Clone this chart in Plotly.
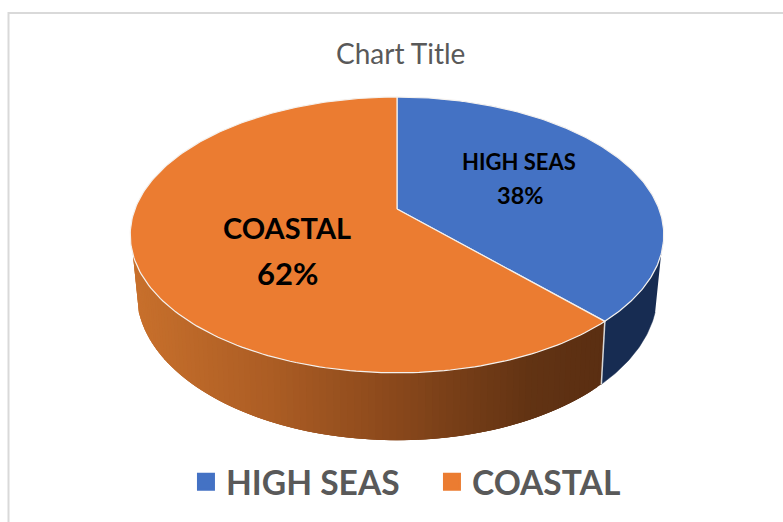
import numpy as np
import plotly.graph_objects as go

# Data
categories = ["HIGH SEAS", "COASTAL"]
shares = [38, 62]
title_text = "Chart Title"

# Style
top_colors = ["#4472c4", "#eb7c31"]
blue_side = "#172c52"
FONT = "Lato"
W, H = 783, 522

# Perspective projection of the pie's top and bottom discs onto the canvas
CX = 397
TOP = dict(B=262, A=133, k=0.188, y0=209)
BOT = dict(B=255, A=141, k=0.20, y0=264)


def project(theta, disc):
    u, v = np.sin(theta), -np.cos(theta)
    d = 1 - disc["k"] * v
    return CX + disc["B"] * u / d, disc["y0"] + disc["A"] * v / d


fracs = np.cumsum([0] + shares) / sum(shares)
angles = 2 * np.pi * fracs
SIDE_END = np.arccos(-0.32)         # angle where rim turns out of sight on the right
SIDE_START = 2 * np.pi - SIDE_END   # same on the left

STOPS_X = [135, 270, 400, 530, 605]
STOPS_RGB = np.array([[200, 112, 44], [172, 93, 36], [136, 71, 27], [98, 51, 19], [90, 46, 18]])


def shade(x):
    r, g, b = (np.interp(x, STOPS_X, STOPS_RGB[:, i]) for i in range(3))
    return f"rgb({r:.0f},{g:.0f},{b:.0f})"


fig = go.Figure()

# Side of the first slice
th = np.linspace(SIDE_END, angles[1], 40)
tx, ty = project(th, TOP)
bx, by = project(th, BOT)
fig.add_trace(go.Scatter(
    x=np.r_[tx, bx[::-1]], y=np.r_[ty, by[::-1]], mode="lines", fill="toself",
    fillcolor=blue_side, line=dict(color=blue_side, width=0.5),
    showlegend=False, hoverinfo="skip"))

# Side of the second slice: overlapping strips painted in order for a smooth gradient
edges = np.linspace(angles[1], SIDE_START, 91)
for i in range(len(edges) - 1):
    th = np.linspace(edges[i], edges[min(i + 3, len(edges) - 1)], 8)
    tx, ty = project(th, TOP)
    bx, by = project(th, BOT)
    col = shade(float((tx[:3].mean() + bx[:3].mean()) / 2))
    fig.add_trace(go.Scatter(
        x=np.r_[tx, bx[::-1]], y=np.r_[ty, by[::-1]], mode="lines", fill="toself",
        fillcolor=col, line=dict(width=0),
        showlegend=False, hoverinfo="skip"))

# Seam between the two side faces
sx0, sy0 = project(angles[1], TOP)
sx1, sy1 = project(angles[1], BOT)
fig.add_trace(go.Scatter(x=[sx0, sx1], y=[sy0, sy1], mode="lines",
                         line=dict(color="#d8d8d8", width=1.5),
                         showlegend=False, hoverinfo="skip"))

# Top faces
for i, col in enumerate(top_colors):
    th = np.linspace(angles[i], angles[i + 1], 200)
    rx, ry = project(th, TOP)
    fig.add_trace(go.Scatter(
        x=np.r_[CX, rx, CX], y=np.r_[TOP["y0"], ry, TOP["y0"]], mode="lines", fill="toself",
        fillcolor=col, line=dict(color="#f4f1ee", width=1.2),
        showlegend=False, hoverinfo="skip"))

# Legend entries
for name, col in zip(categories, top_colors):
    fig.add_trace(go.Scatter(x=[None], y=[None], mode="markers", name=name,
                             marker=dict(symbol="square", size=16, color=col,
                                         line=dict(color=col, width=2))))


def label(x, y, text, size):
    fig.add_annotation(x=x, y=y, text=text, showarrow=False, xanchor="center", yanchor="middle",
                       font=dict(family=FONT, size=size, color="#000000", weight="bold"))


label(519, 161, categories[0], 22)
label(520, 195, f"{shares[0]}%", 23.5)
label(287, 227, categories[1], 29)
label(287, 273, f"{shares[1]}%", 31)

fig.add_annotation(x=400, y=53, text=title_text, showarrow=False,
                   font=dict(family=FONT, size=28, color="#595959"))

frame = "M 8.5 522 L 8.5 13 L 783 13"
fig.update_layout(
    width=W, height=H, margin=dict(l=0, r=0, t=0, b=0),
    paper_bgcolor="white", plot_bgcolor="white", hovermode=False,
    xaxis=dict(range=[0, W], visible=False, fixedrange=True),
    yaxis=dict(range=[H, 0], visible=False, fixedrange=True),
    shapes=[dict(type="path", path=frame, line=dict(color="#d9d9d9", width=2), layer="below")],
    legend=dict(orientation="h", x=0.2375, xanchor="left", y=0.077, yanchor="middle",
                bgcolor="rgba(0,0,0,0)", itemsizing="trace",
                entrywidth=201, entrywidthmode="pixels",
                font=dict(family=FONT, size=33.6, color="#595959", weight="bold")),
)
fig.write_html("out.html", config={"displayModeBar": False},
               post_script="document.body.style.margin='0';")
